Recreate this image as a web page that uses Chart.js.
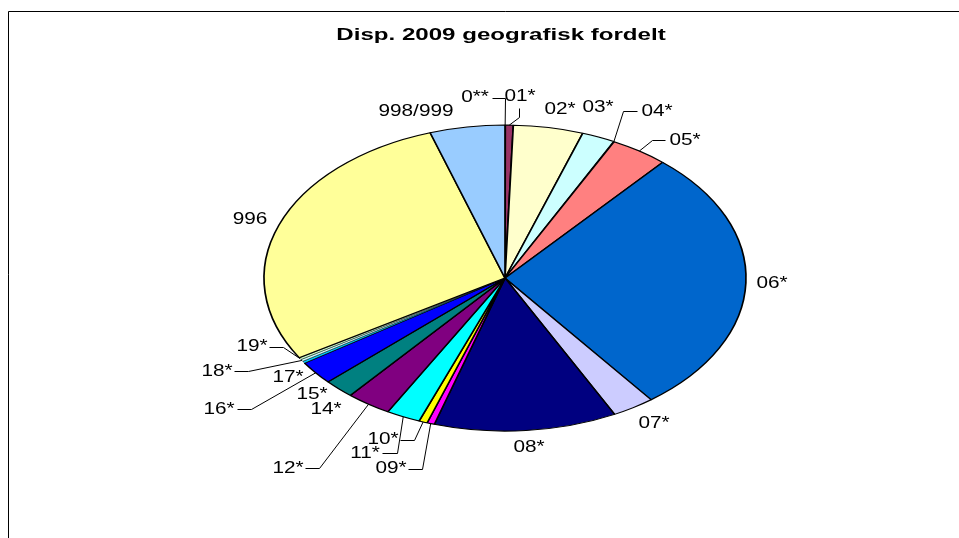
<!DOCTYPE html>
<html><head><meta charset="utf-8">
<style>html,body{margin:0;padding:0;background:#fff;overflow:hidden;width:959px;height:538px}
#w{position:absolute;left:0;top:0;width:1002px;height:538px}</style>
<script src="https://cdn.jsdelivr.net/npm/chart.js@4"></script></head>
<body><div id="w"><canvas id="c" width="1002" height="538" style="width:1002px;height:538px"></canvas></div>
<script>
const categories=["0**","01*","02*","03*","04*","05*","06*","07*","08*","09*","10*","11*","12*","14*","15*","16*","17*","18*","19*","996","998/999"];
const shares=[0.02,0.53,4.68,2.22,0.03,3.87,28.3,2.86,12.25,0.5,0.56,2.28,3.0,0.02,2.03,2.5,0.22,0.22,0.22,28.7,5.03];
const colors=["#9999FF","#993366","#FFFFCC","#CCFFFF","#660066","#FF8080","#0066CC","#CCCCFF","#000080","#FF00FF","#FFFF00","#00FFFF","#800080","#800000","#008080","#0000FF","#00CCFF","#CCFFFF","#CCFFCC","#FFFF99","#99CCFF"];
const titleText="Disp. 2009 geografisk fordelt";

/* annotation layout, not data */
const RX=241,RY=153,FONT_SX=1.26,TITLE_SX=1.46,TITLE_DX=-4;
const thinSlices=["0**","04*","14*","17*","18*","19*"];
const borderWidths=categories.map(n=>thinSlices.includes(n)?0.6:1.7);
const labelPos={"0**":[475,97],"01*":[520,96],"02*":[560,109],"03*":[598,107],"04*":[657,111],"05*":[685,140],"06*":[772,283],"07*":[654,423],"08*":[529,447],"09*":[391,468],"10*":[383,439],"11*":[365,453],"12*":[288,468],"14*":[326,409],"15*":[312,394],"16*":[219,409],"17*":[288,377],"18*":[217,371],"19*":[252,346],"996":[250,219],"998/999":[416,111]};
const leaders={"0**":[[492,98],[505,98]],"01*":[[519,108],[519,117]],"04*":[[637,111],[623,111]],"05*":[[665,140],[652,140]],"09*":[[408,469],[422,469]],"10*":[[400,440],[414,440]],"11*":[[382,453],[397,453]],"12*":[[305,468],[319,468]],"16*":[[237,409],[251,409]],"18*":[[234,371],[248,371]],"19*":[[269,347],[283,347]]};

const ellipse={id:"ellipse",
 afterLayout(ch){
  const b=ch.titleBlock;
  if(b&&!b._st){b._st=1;const d=b.draw;b.draw=function(){const c=ch.ctx,m=(b.left+b.right)/2;c.save();c.translate(m+TITLE_DX,1);c.scale(TITLE_SX,1);c.translate(-m,0);d.call(b);c.restore();};}
 },
 beforeDraw(ch){const c=ch.ctx;c.save();c.strokeStyle="#000";c.lineWidth=1;c.beginPath();c.moveTo(8.5,538);c.lineTo(8.5,11.5);c.lineTo(1002,11.5);c.stroke();c.restore();},
 beforeDatasetsDraw(ch){const a=ch.getDatasetMeta(0).data[0],c=ch.ctx;c.save();c.translate(a.x,a.y);c.scale(1,RY/RX);c.translate(-a.x,-a.y);},
 afterDatasetsDraw(ch){
  const c=ch.ctx;c.restore();
  const arcs=ch.getDatasetMeta(0).data;
  c.save();c.strokeStyle="#000";c.lineWidth=1;c.fillStyle="#000";
  categories.forEach((n,i)=>{
   const l=leaders[n];
   if(l){const a=arcs[i],t=(a.startAngle+a.endAngle)/2;
    const x=a.x+RX*Math.cos(t),y=a.y+RY*Math.sin(t);
    c.beginPath();c.moveTo(l[0][0]+.5,l[0][1]+.5);c.lineTo(l[1][0]+.5,l[1][1]+.5);c.lineTo(x,y);c.stroke();}
   const p=labelPos[n];
   c.save();c.translate(p[0],p[1]);c.scale(FONT_SX,1);
   c.font="16.5px 'Liberation Sans'";c.textAlign="center";c.textBaseline="middle";c.fillText(n,0,0);c.restore();
  });
  c.restore();
 }};
new Chart(document.getElementById("c"),{type:"pie",plugins:[ellipse],
 data:{labels:categories,datasets:[{data:shares,backgroundColor:colors,borderColor:"#000",borderWidth:borderWidths}]},
 options:{responsive:false,animation:false,radius:RX,
  layout:{padding:{left:8,right:0,top:0,bottom:27}},
  plugins:{legend:{display:false},tooltip:{enabled:false},
   title:{display:true,text:titleText,color:"#000",font:{family:"'Liberation Sans'",size:16.5,weight:"bold",lineHeight:1.1},padding:{top:25,bottom:2}}}}});
</script></body></html>
